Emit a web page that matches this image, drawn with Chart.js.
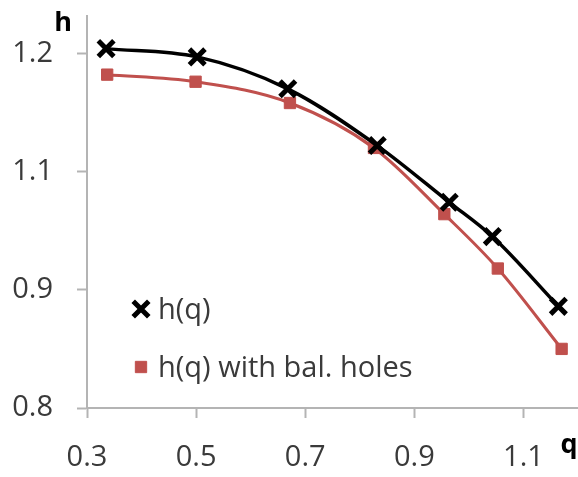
<!DOCTYPE html>
<html>
<head>
<meta charset="utf-8">
<script src="https://cdn.jsdelivr.net/npm/chart.js@4/dist/chart.umd.min.js"></script>
<style>
  html, body { margin: 0; padding: 0; background: #ffffff; }
  #wrap { width: 578px; height: 477px; position: relative; }
</style>
</head>
<body>
<div id="wrap"><canvas id="c" width="578" height="477"></canvas></div>
<script>
// ---- data ----
const seriesNames = ['h(q)', 'h(q) with bal. holes'];
const qPlain = [0.335, 0.502, 0.668, 0.832, 0.964, 1.043, 1.164];
const hPlain = [1.104, 1.097, 1.070, 1.022, 0.974, 0.945, 0.886];
const qHoles = [0.337, 0.499, 0.672, 0.826, 0.955, 1.053, 1.170];
const hHoles = [1.082, 1.076, 1.058, 1.020, 0.964, 0.918, 0.850];
const xTickValues = [0.3, 0.5, 0.7, 0.9, 1.1];
const xTickLabels = ['0.3', '0.5', '0.7', '0.9', '1.1'];
const yTickValues = [0.8, 0.9, 1.0, 1.1];
const yTickLabels = ['0.8', '0.9', '1.1', '1.2'];
const xTitle = 'q';
const yTitle = 'h';

const toPoints = (xs, ys) => xs.map((x, i) => ({ x: x, y: ys[i] }));

const FONT = '"Open Sans", "Liberation Sans", sans-serif';
const AXIS_GREY = '#b4b4b4';
const TEXT_GREY = '#3a3a3a';
const RED = '#c0504d';

const noPad = (s) => { s.paddingTop = 0; s.paddingBottom = 0; s.paddingLeft = 0; s.paddingRight = 0; };

const overlay = {
  id: 'overlay',
  afterDraw(chart) {
    const ctx = chart.ctx;
    const area = chart.chartArea;
    ctx.save();
    // axis titles
    ctx.fillStyle = '#000000';
    ctx.font = 'bold 27px ' + FONT;
    ctx.textAlign = 'center';
    ctx.textBaseline = 'middle';
    ctx.fillText(yTitle, area.left - 24, area.top + 7);
    ctx.fillText(xTitle, area.right - 9, area.bottom + 37);
    // legend inside plot area
    const legendX = area.left + 54;
    const legendY = [area.top + 293, area.top + 351];
    chart.data.datasets.forEach((ds, i) => {
      const y = legendY[i];
      ctx.fillStyle = ds.pointBackgroundColor;
      ctx.strokeStyle = ds.pointBorderColor;
      ctx.lineWidth = ds.pointBorderWidth;
      Chart.helpers.drawPoint(ctx, {
        pointStyle: ds.pointStyle,
        rotation: 0,
        radius: ds.legendRadius,
        borderWidth: ds.pointBorderWidth
      }, legendX, y);
      ctx.fillStyle = TEXT_GREY;
      ctx.font = '29px ' + FONT;
      ctx.textAlign = 'left';
      ctx.textBaseline = 'middle';
      ctx.fillText(ds.label, legendX + 17, y + 2);
    });
    ctx.restore();
  }
};

new Chart(document.getElementById('c'), {
  type: 'scatter',
  data: {
    datasets: [
      {
        label: seriesNames[0],
        data: toPoints(qPlain, hPlain),
        showLine: true,
        borderColor: '#000000',
        borderWidth: 3.5,
        cubicInterpolationMode: 'monotone',
        pointStyle: 'crossRot',
        pointRadius: 11,
        pointBorderWidth: 5,
        pointBorderColor: '#000000',
        pointBackgroundColor: '#000000',
        legendRadius: 11,
        order: 1
      },
      {
        label: seriesNames[1],
        data: toPoints(qHoles, hHoles),
        showLine: true,
        borderColor: RED,
        borderWidth: 3,
        cubicInterpolationMode: 'monotone',
        pointStyle: 'rect',
        pointRadius: 8,
        pointBorderWidth: 1,
        pointBorderColor: RED,
        pointBackgroundColor: RED,
        legendRadius: 8,
        order: 2
      }
    ]
  },
  options: {
    responsive: false,
    animation: false,
    devicePixelRatio: 1,
    layout: { autoPadding: false, padding: { top: 16, right: 0, left: 0, bottom: 0 } },
    plugins: {
      legend: { display: false },
      tooltip: { enabled: false }
    },
    scales: {
      x: {
        type: 'linear',
        min: 0.3,
        max: 1.2,
        afterBuildTicks: (s) => { s.ticks = xTickValues.map(v => ({ value: v })); },
        afterFit: (s) => { s.height = 69; noPad(s); },
        border: { color: AXIS_GREY, width: 2 },
        grid: { drawOnChartArea: false, drawTicks: true, tickLength: 10, color: AXIS_GREY, tickWidth: 2 },
        ticks: {
          padding: 22,
          color: TEXT_GREY,
          font: { family: FONT, size: 29 },
          maxRotation: 0,
          callback: (v) => { const i = xTickValues.findIndex(t => Math.abs(t - v) < 1e-6); return i >= 0 ? xTickLabels[i] : ''; }
        }
      },
      y: {
        type: 'linear',
        min: 0.8,
        max: 1.1316,
        afterBuildTicks: (s) => { s.ticks = yTickValues.map(v => ({ value: v })); },
        afterFit: (s) => { s.width = 87; noPad(s); },
        border: { color: AXIS_GREY, width: 2 },
        grid: { drawOnChartArea: false, drawTicks: true, tickLength: 10, color: AXIS_GREY, tickWidth: 2 },
        ticks: {
          padding: 24,
          color: TEXT_GREY,
          font: { family: FONT, size: 29 },
          callback: (v) => { const i = yTickValues.findIndex(t => Math.abs(t - v) < 1e-6); return i >= 0 ? yTickLabels[i] : ''; }
        }
      }
    }
  },
  plugins: [overlay]
});
</script>
</body>
</html>
